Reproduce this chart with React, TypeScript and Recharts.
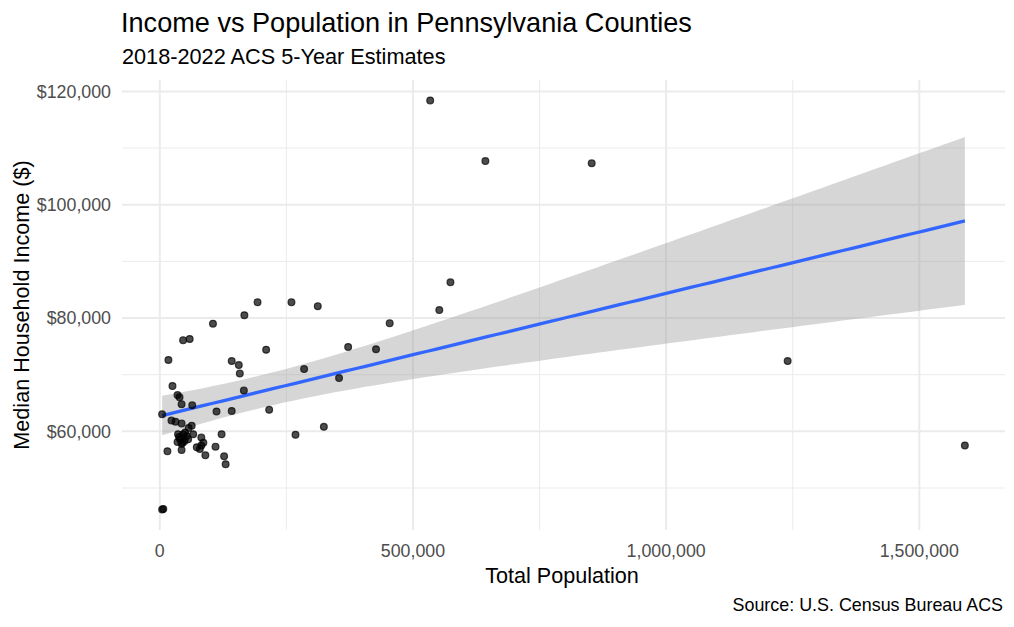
import { CartesianGrid, ComposedChart, Area, Line, Scatter, XAxis, YAxis } from "recharts";

// county total population
const population = [
  534000, 643000, 853000, 574000, 552000, 312000, 193000, 260000, 167000, 105000,
  454000, 46000, 59000, 372000, 427000, 210000, 17000, 142000, 156000, 158000,
  285000, 354000, 1240000, 25000, 166000, 35000, 39000, 43000, 64000, 112000,
  142000, 216000, 4600, 23000, 31000, 43000, 63000, 57000, 324000, 268000,
  122000, 66000, 36000, 46000, 53000, 40000, 49000, 35000, 43000, 56000,
  82000, 86000, 73000, 79000, 82000, 110000, 15000, 43000, 90000, 127000,
  130000, 1590000, 4600, 6900, 38000, 45000, 50000,
];

// county median household income, same order
const medianIncome = [
  118400, 107700, 107300, 86300, 81400, 82100, 82800, 82800, 80500, 79000,
  79100, 76100, 76300, 74900, 74500, 74400, 72600, 72400, 71700, 70200,
  71000, 69400, 72400, 68000, 67200, 66400, 66000, 64800, 64600, 63500,
  63600, 63800, 63000, 61900, 61700, 61400, 61000, 60600, 60800, 59400,
  59500, 59500, 59500, 59500, 59200, 58600, 58300, 58100, 57800, 58600,
  58900, 58000, 57200, 56900, 57500, 57300, 56500, 56700, 55800, 55600,
  54200, 57500, 46200, 46300, 59000, 58000, 59800,
];

const xMajor = [0, 500000, 1000000, 1500000];
const xMinor = [250000, 750000, 1250000];
const yMajor = [60000, 80000, 100000, 120000];
const yMinor = [50000, 70000, 90000, 110000];

const points = population.map((x, i) => ({ x, y: medianIncome[i] }));

// lm fit with 95% band, like geom_smooth(method = "lm")
const n = points.length;
const mx = population.reduce((s, v) => s + v, 0) / n;
const my = medianIncome.reduce((s, v) => s + v, 0) / n;
let sxx = 0;
let sxy = 0;
points.forEach((p) => {
  sxx += (p.x - mx) ** 2;
  sxy += (p.x - mx) * (p.y - my);
});
const slope = sxy / sxx;
const icept = my - slope * mx;
const sse = points.reduce((s, p) => s + (p.y - (icept + slope * p.x)) ** 2, 0);
const sigma = Math.sqrt(sse / (n - 2));
const tq = 1.9971;

const xMin = Math.min(...population);
const xMax = Math.max(...population);
const yMin = Math.min(...medianIncome);
const yMax = Math.max(...medianIncome);
const xPad = (xMax - xMin) * 0.05;
const yPad = (yMax - yMin) * 0.05;

const fitData = Array.from({ length: 80 }, (_, i) => {
  const x = xMin + ((xMax - xMin) * i) / 79;
  const fit = icept + slope * x;
  const se = sigma * Math.sqrt(1 / n + (x - mx) ** 2 / sxx);
  return { x, fit, band: [fit - tq * se, fit + tq * se] };
});

const font = "'Liberation Sans', Arial, sans-serif";
const tickStyle = { fontSize: 17.8, fill: "#4D4D4D" };

export default function App() {
  return (
    <div style={{ position: "absolute", left: 0, top: 0, width: 1014, height: 627, background: "#fff", fontFamily: font }}>
      <ComposedChart
        width={1014}
        height={627}
        data={fitData}
        margin={{ top: 80, right: 9, bottom: 57, left: 0 }}
      >
        <CartesianGrid stroke="#EBEBEB" strokeWidth={1} horizontalValues={yMinor} verticalValues={xMinor} />
        <CartesianGrid stroke="#EBEBEB" strokeWidth={2} horizontalValues={yMajor} verticalValues={xMajor} />
        <XAxis
          dataKey="x"
          type="number"
          domain={[xMin - xPad, xMax + xPad]}
          allowDataOverflow
          ticks={xMajor}
          tickFormatter={(v: number) => v.toLocaleString("en-US")}
          axisLine={false}
          tickLine={false}
          tickSize={0}
          tickMargin={14}
          height={40}
          tick={tickStyle}
        />
        <YAxis
          type="number"
          domain={[yMin - yPad, yMax + yPad]}
          allowDataOverflow
          ticks={yMajor}
          tickFormatter={(v: number) => "$" + v.toLocaleString("en-US")}
          axisLine={false}
          tickLine={false}
          tickSize={0}
          tickMargin={11}
          width={122}
          tick={tickStyle}
        />
        <Area dataKey="band" type="linear" stroke="none" fill="#999999" fillOpacity={0.4} isAnimationActive={false} />
        <Scatter
          data={points}
          dataKey="y"
          isAnimationActive={false}
          shape={(p: any) => (
            <circle cx={p.cx} cy={p.cy} r={3.4} fill="#000" fillOpacity={0.7} stroke="#000" strokeOpacity={0.7} strokeWidth={1.2} />
          )}
        />
        <Line dataKey="fit" type="linear" stroke="#3366FF" strokeWidth={3.3} dot={false} activeDot={false} isAnimationActive={false} />
      </ComposedChart>
      <svg width={1014} height={627} style={{ position: "absolute", left: 0, top: 0, pointerEvents: "none" }}>
        <text x={121} y={32.3} fontSize={27.1} fill="#000">Income vs Population in Pennsylvania Counties</text>
        <text x={122} y={64} fontSize={21.7} fill="#000">2018-2022 ACS 5-Year Estimates</text>
        <text x={562} y={582.7} fontSize={21.6} fill="#000" textAnchor="middle">Total Population</text>
        <text transform="translate(29,305) rotate(-90)" fontSize={21.6} fill="#000" textAnchor="middle">
          Median Household Income ($)
        </text>
        <text x={1003} y={611} fontSize={17.9} fill="#000" textAnchor="end">Source: U.S. Census Bureau ACS</text>
      </svg>
    </div>
  );
}
